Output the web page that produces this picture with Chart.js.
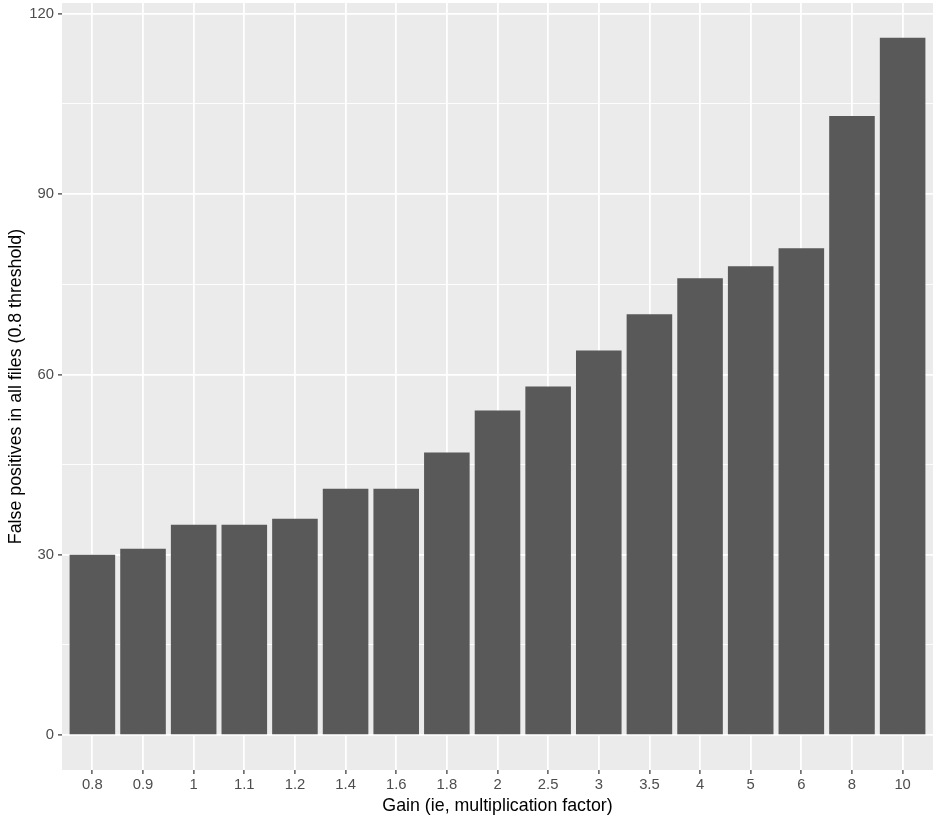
<!DOCTYPE html>
<html>
<head>
<meta charset="utf-8">
<script src="https://cdn.jsdelivr.net/npm/chart.js@4"></script>
<style>
  html, body { margin: 0; padding: 0; background: #fff; }
  #wrap { width: 933px; height: 819px; }
</style>
</head>
<body>
<div id="wrap"><canvas id="grafico"></canvas></div>
<script>
// dados
const gains = ["0.8", "0.9", "1", "1.1", "1.2", "1.4", "1.6", "1.8", "2", "2.5", "3", "3.5", "4", "5", "6", "8", "10"];
const falsePositives = [30, 31, 35, 35, 36, 41, 41, 47, 54, 58, 64, 70, 76, 78, 81, 103, 116];
const yTicks = [0, 30, 60, 90, 120];
const yMinorTicks = [15, 45, 75, 105];

const fundoPainel = {
  id: "fundoPainel",
  beforeDraw(chart) {
    const { ctx, chartArea: a } = chart;
    ctx.save();
    ctx.fillStyle = "#EBEBEB";
    ctx.fillRect(a.left, a.top, a.right - a.left, a.bottom - a.top);
    ctx.restore();
  },
};

const tickFont = { family: "'Liberation Sans', Arial, sans-serif", size: 14.8 };
const titleFont = { family: "'Liberation Sans', Arial, sans-serif", size: 17.8 };

new Chart(document.getElementById("grafico"), {
  type: "bar",
  data: {
    datasets: [
      {
        data: falsePositives.map((v, i) => ({ x: i, y: v })),
        backgroundColor: "#595959",
        categoryPercentage: 1,
        barPercentage: 0.9,
      },
    ],
  },
  options: {
    responsive: true,
    maintainAspectRatio: false,
    animation: false,
    layout: { padding: { top: 3, right: 0, left: 0, bottom: 0 } },
    plugins: {
      legend: { display: false },
      tooltip: { enabled: false },
    },
    scales: {
      x: {
        type: "linear",
        min: -0.6,
        max: gains.length - 0.4,
        offset: false,
        afterBuildTicks: (s) => {
          s.ticks = gains.map((g, i) => ({ value: i }));
        },
        afterFit: (s) => {
          s.height = 49;
          s.paddingLeft = 0;
          s.paddingRight = 0;
        },
        ticks: {
          autoSkip: false,
          maxRotation: 0,
          padding: 2,
          color: "#4D4D4D",
          font: tickFont,
          callback: (v) => gains[v],
        },
        grid: {
          color: "#FFFFFF",
          lineWidth: 1.8,
          tickLength: 4,
          tickColor: "#333333",
          tickWidth: 1.2,
          offset: false,
        },
        border: { display: false },
        title: {
          display: true,
          text: "Gain (ie, multiplication factor)",
          color: "#000000",
          font: titleFont,
          padding: { top: 1, bottom: 2 },
        },
      },
      y: {
        min: -5.8,
        max: 121.8,
        afterBuildTicks: (s) => {
          s.ticks = yTicks.concat(yMinorTicks).sort((a, b) => a - b).map((v) => ({ value: v }));
        },
        afterFit: (s) => {
          s.width = 62;
          s.paddingTop = 0;
          s.paddingBottom = 0;
        },
        ticks: {
          padding: 4,
          color: "#4D4D4D",
          font: tickFont,
          callback: (v) => (yTicks.includes(v) ? String(v) : ""),
        },
        grid: {
          color: "#FFFFFF",
          lineWidth: (c) => (yTicks.includes(c.tick.value) ? 1.8 : 0.9),
          tickLength: 4,
          tickColor: (c) => (yTicks.includes(c.tick.value) ? "#333333" : "rgba(0,0,0,0)"),
          tickWidth: 1.2,
        },
        border: { display: false },
        title: {
          display: true,
          text: "False positives in all files (0.8 threshold)",
          color: "#000000",
          font: titleFont,
          padding: { top: 5, bottom: 2 },
        },
      },
    },
  },
  plugins: [fundoPainel],
});
</script>
</body>
</html>
